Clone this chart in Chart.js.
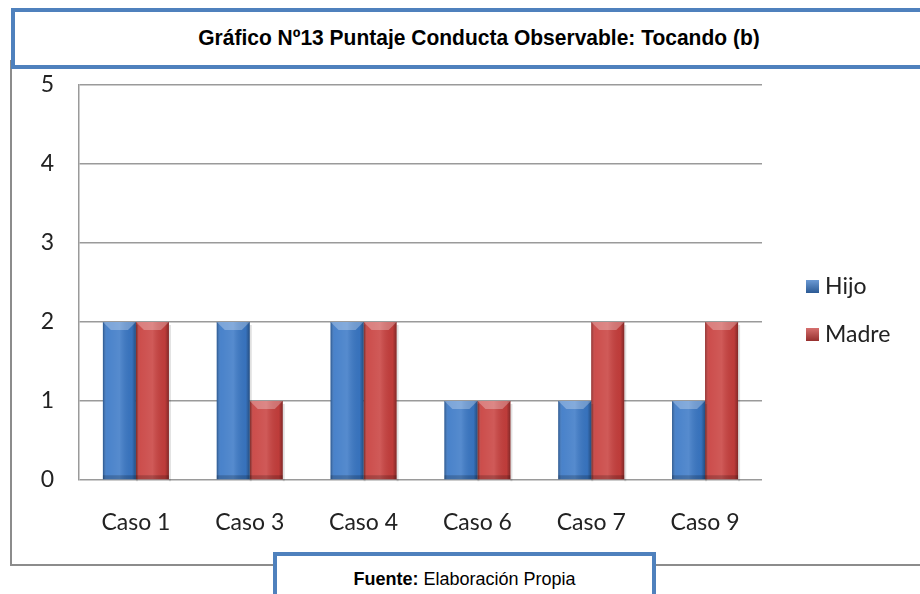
<!DOCTYPE html>
<html>
<head>
<meta charset="utf-8">
<script src="https://cdn.jsdelivr.net/npm/chart.js@4/dist/chart.umd.min.js"></script>
<style>
  html, body { margin:0; padding:0; background:#fff; width:920px; height:594px; overflow:hidden; position:relative; }
  #frame { position:absolute; left:10px; top:60px; width:980px; height:504px;
           border-left:2px solid #8c8c8c; border-bottom:2px solid #8c8c8c; }
  #chart { position:absolute; left:0; top:0; }
  #titleBox { position:absolute; left:11px; top:8px; width:960px; height:53px;
              border:4.5px solid #4F81BD; border-right:none; background:#fff;
              font-family:"Liberation Sans", Arial, sans-serif; font-weight:bold; font-size:21px;
              color:#000; }
  #titleBox span { position:absolute; left:0; width:928px; top:13px; text-align:center;
                   display:block; transform:scaleY(1.08); }
  #srcBox { position:absolute; left:273px; top:552px; width:375px; height:60px;
            border:4.5px solid #4F81BD; background:#fff;
            font-family:"Liberation Sans", Arial, sans-serif; font-size:18px; color:#000;
            text-align:center; }
  #srcBox span { position:absolute; left:0; right:0; top:13px; transform:scaleY(1.05); }
</style>
</head>
<body>
<div id="frame"></div>
<canvas id="chart" width="920" height="594"></canvas>
<div id="titleBox"><span>Gráfico Nº13 Puntaje Conducta Observable: Tocando (b)</span></div>
<div id="srcBox"><span><b>Fuente:</b> Elaboración Propia</span></div>
<script>
const categories = ["Caso 1", "Caso 3", "Caso 4", "Caso 6", "Caso 7", "Caso 9"];
const hijo  = [2, 2, 2, 1, 1, 1];
const madre = [2, 1, 2, 1, 2, 2];
const seriesNames = ["Hijo", "Madre"];
const yTicks = [0, 1, 2, 3, 4, 5];

const FONT = "Lato, 'Open Sans', sans-serif";

const bevelPlugin = {
  id: 'bevel',
  afterDatasetsDraw(chart) {
    const ctx = chart.ctx;
    chart.data.datasets.forEach((ds, di) => {
      const meta = chart.getDatasetMeta(di);
      meta.data.forEach(bar => {
        const p = bar.getProps(['x','y','base','width'], true);
        const l = p.x - p.width/2, r = p.x + p.width/2, t = p.y, b = p.base;
        ctx.save();
        ctx.fillStyle = 'rgba(0,0,0,0.12)';
        ctx.fillRect(r, t + 3, 2, b - t - 1);
        const g = ctx.createLinearGradient(l, 0, r, 0);
        g.addColorStop(0, 'rgba(0,0,0,0.30)');
        g.addColorStop(0.12, 'rgba(255,255,255,0.08)');
        g.addColorStop(0.5, 'rgba(255,255,255,0.14)');
        g.addColorStop(0.88, 'rgba(0,0,0,0.05)');
        g.addColorStop(1, 'rgba(0,0,0,0.35)');
        ctx.fillStyle = g;
        ctx.fillRect(l, t, r - l, b - t);
        const h = Math.min(8, (r - l) / 4);
        ctx.beginPath();
        ctx.moveTo(l, t); ctx.lineTo(r, t); ctx.lineTo(r - h, t + h); ctx.lineTo(l + h, t + h); ctx.closePath();
        ctx.fillStyle = 'rgba(255,255,255,0.28)';
        ctx.fill();
        ctx.fillStyle = 'rgba(0,0,0,0.18)';
        ctx.fillRect(l, b - 4, r - l, 4);
        ctx.restore();
      });
    });
  }
};

const legendPlugin = {
  id: 'customLegend',
  afterDraw(chart) {
    const ctx = chart.ctx;
    const x0 = 806, ys = [287, 335];
    chart.data.datasets.forEach((ds, i) => {
      const y = ys[i];
      ctx.save();
      ctx.fillStyle = ds.backgroundColor;
      ctx.fillRect(x0, y - 7, 13, 13);
      const g = ctx.createLinearGradient(0, y - 7, 0, y + 6);
      g.addColorStop(0, 'rgba(255,255,255,0.25)');
      g.addColorStop(1, 'rgba(0,0,0,0.25)');
      ctx.fillStyle = g;
      ctx.fillRect(x0, y - 7, 13, 13);
      ctx.fillStyle = '#222';
      ctx.font = "23px " + FONT;
      ctx.textBaseline = 'middle';
      ctx.fillText(ds.label, x0 + 19, y);
      ctx.restore();
    });
  }
};

new Chart(document.getElementById('chart'), {
  type: 'bar',
  data: {
    labels: categories,
    datasets: [
      { label: seriesNames[0], data: hijo,  backgroundColor: '#3A78C6' },
      { label: seriesNames[1], data: madre, backgroundColor: '#C83F3D' }
    ]
  },
  options: {
    responsive: false,
    animation: false,
    layout: { padding: { left: 0, top: 85, right: 158, bottom: 0 } },
    datasets: { bar: { categoryPercentage: 0.58, barPercentage: 1.0 } },
    plugins: { legend: { display: false }, tooltip: { enabled: false } },
    scales: {
      x: {
        grid: { display: false, drawTicks: false },
        border: { display: false },
        ticks: { color: '#222', font: { family: FONT, size: 23 }, padding: 29 },
        afterFit(s) { s.height = 114; }
      },
      y: {
        min: 0, max: 5,
        afterBuildTicks(s) { s.ticks = yTicks.map(v => ({ value: v })); },
        grid: { color: '#9a9a9a', lineWidth: 1.5, drawTicks: false },
        border: { display: true, color: '#9a9a9a', width: 1.5 },
        ticks: { color: '#222', font: { family: FONT, size: 23 }, padding: 25 },
        afterFit(s) { s.width = 79; }
      }
    }
  },
  plugins: [bevelPlugin, legendPlugin]
});
</script>
</body>
</html>
